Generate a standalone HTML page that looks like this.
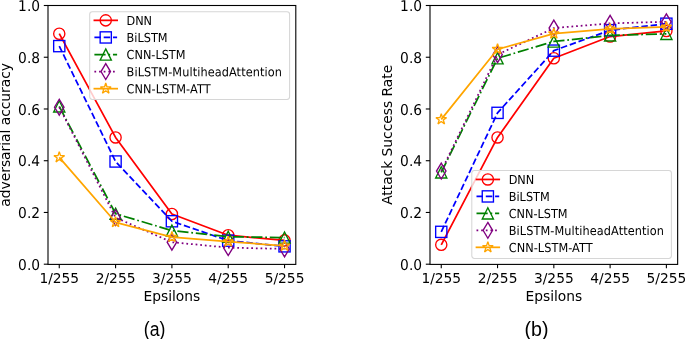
<!DOCTYPE html>
<html><head><meta charset="utf-8"><title>Figure</title>
<style>html,body{margin:0;padding:0;background:#fff}svg{display:block}</style>
</head><body>
<svg width="685" height="339" viewBox="0 0 685 339" font-family='"DejaVu Sans", "Liberation Sans", sans-serif' fill="#000">
<rect width="685" height="339" fill="#fff"/>
<clipPath id="ca"><rect x="48.0" y="5.5" width="247.8" height="258.7"/></clipPath>
<g clip-path="url(#ca)">
<polyline points="59.26,33.70 115.58,137.44 171.90,214.01 228.22,235.23 284.54,240.40" fill="none" stroke="#ff0000" stroke-width="1.75" stroke-linejoin="round"/>
<circle cx="59.26" cy="33.70" r="5.60" fill="none" stroke="#ff0000" stroke-width="1.35"/>
<circle cx="115.58" cy="137.44" r="5.60" fill="none" stroke="#ff0000" stroke-width="1.35"/>
<circle cx="171.90" cy="214.01" r="5.60" fill="none" stroke="#ff0000" stroke-width="1.35"/>
<circle cx="228.22" cy="235.23" r="5.60" fill="none" stroke="#ff0000" stroke-width="1.35"/>
<circle cx="284.54" cy="240.40" r="5.60" fill="none" stroke="#ff0000" stroke-width="1.35"/>
<polyline points="59.26,46.12 115.58,161.50 171.90,221.26 228.22,240.66 284.54,246.35" fill="none" stroke="#0000ff" stroke-width="1.75" stroke-dasharray="6.5 2.8" stroke-linejoin="round"/>
<rect x="53.66" y="40.52" width="11.20" height="11.20" fill="none" stroke="#0000ff" stroke-width="1.35"/>
<rect x="109.98" y="155.90" width="11.20" height="11.20" fill="none" stroke="#0000ff" stroke-width="1.35"/>
<rect x="166.30" y="215.66" width="11.20" height="11.20" fill="none" stroke="#0000ff" stroke-width="1.35"/>
<rect x="222.62" y="235.06" width="11.20" height="11.20" fill="none" stroke="#0000ff" stroke-width="1.35"/>
<rect x="278.94" y="240.75" width="11.20" height="11.20" fill="none" stroke="#0000ff" stroke-width="1.35"/>
<polyline points="59.26,106.39 115.58,213.75 171.90,230.57 228.22,236.78 284.54,237.55" fill="none" stroke="#008000" stroke-width="1.75" stroke-dasharray="11.2 2.8 1.75 2.8" stroke-linejoin="round"/>
<path d="M59.26 100.79 L64.86 111.99 L53.66 111.99 Z" fill="none" stroke="#008000" stroke-width="1.35" stroke-linejoin="miter"/>
<path d="M115.58 208.15 L121.18 219.35 L109.98 219.35 Z" fill="none" stroke="#008000" stroke-width="1.35" stroke-linejoin="miter"/>
<path d="M171.90 224.97 L177.50 236.17 L166.30 236.17 Z" fill="none" stroke="#008000" stroke-width="1.35" stroke-linejoin="miter"/>
<path d="M228.22 231.18 L233.82 242.38 L222.62 242.38 Z" fill="none" stroke="#008000" stroke-width="1.35" stroke-linejoin="miter"/>
<path d="M284.54 231.95 L290.14 243.15 L278.94 243.15 Z" fill="none" stroke="#008000" stroke-width="1.35" stroke-linejoin="miter"/>
<polyline points="59.26,107.17 115.58,217.63 171.90,242.21 228.22,247.64 284.54,248.94" fill="none" stroke="#800080" stroke-width="1.75" stroke-dasharray="1.75 2.9" stroke-linejoin="round"/>
<path d="M59.26 99.25 L64.02 107.17 L59.26 115.09 L54.51 107.17 Z" fill="none" stroke="#800080" stroke-width="1.35" stroke-linejoin="miter"/>
<path d="M115.58 209.71 L120.33 217.63 L115.58 225.55 L110.83 217.63 Z" fill="none" stroke="#800080" stroke-width="1.35" stroke-linejoin="miter"/>
<path d="M171.90 234.29 L176.65 242.21 L171.90 250.13 L167.15 242.21 Z" fill="none" stroke="#800080" stroke-width="1.35" stroke-linejoin="miter"/>
<path d="M228.22 239.72 L232.97 247.64 L228.22 255.56 L223.47 247.64 Z" fill="none" stroke="#800080" stroke-width="1.35" stroke-linejoin="miter"/>
<path d="M284.54 241.02 L289.29 248.94 L284.54 256.86 L279.78 248.94 Z" fill="none" stroke="#800080" stroke-width="1.35" stroke-linejoin="miter"/>
<polyline points="59.26,157.36 115.58,222.29 171.90,237.04 228.22,241.69 284.54,245.83" fill="none" stroke="#ffa500" stroke-width="1.75" stroke-linejoin="round"/>
<path d="M59.26 151.76 L60.52 155.63 L64.59 155.63 L61.30 158.02 L62.56 161.89 L59.26 159.50 L55.97 161.89 L57.23 158.02 L53.94 155.63 L58.01 155.63 Z" fill="none" stroke="#ffa500" stroke-width="1.35" stroke-linejoin="bevel"/>
<path d="M115.58 216.69 L116.84 220.56 L120.91 220.56 L117.62 222.95 L118.87 226.82 L115.58 224.43 L112.29 226.82 L113.55 222.95 L110.26 220.56 L114.32 220.56 Z" fill="none" stroke="#ffa500" stroke-width="1.35" stroke-linejoin="bevel"/>
<path d="M171.90 231.44 L173.16 235.31 L177.23 235.31 L173.93 237.70 L175.19 241.57 L171.90 239.18 L168.61 241.57 L169.87 237.70 L166.57 235.31 L170.64 235.31 Z" fill="none" stroke="#ffa500" stroke-width="1.35" stroke-linejoin="bevel"/>
<path d="M228.22 236.09 L229.48 239.96 L233.54 239.96 L230.25 242.35 L231.51 246.22 L228.22 243.83 L224.93 246.22 L226.18 242.35 L222.89 239.96 L226.96 239.96 Z" fill="none" stroke="#ffa500" stroke-width="1.35" stroke-linejoin="bevel"/>
<path d="M284.54 240.23 L285.79 244.10 L289.86 244.10 L286.57 246.49 L287.83 250.36 L284.54 247.97 L281.24 250.36 L282.50 246.49 L279.21 244.10 L283.28 244.10 Z" fill="none" stroke="#ffa500" stroke-width="1.35" stroke-linejoin="bevel"/>
</g>
<rect x="48.0" y="5.5" width="247.8" height="258.9" fill="none" stroke="#000" stroke-width="1.1"/>
<line x1="59.26" y1="264.2" x2="59.26" y2="268.20" stroke="#000" stroke-width="1.1"/>
<text x="59.26" y="283.10" font-size="13.8" text-anchor="middle">1/255</text>
<line x1="115.58" y1="264.2" x2="115.58" y2="268.20" stroke="#000" stroke-width="1.1"/>
<text x="115.58" y="283.10" font-size="13.8" text-anchor="middle">2/255</text>
<line x1="171.90" y1="264.2" x2="171.90" y2="268.20" stroke="#000" stroke-width="1.1"/>
<text x="171.90" y="283.10" font-size="13.8" text-anchor="middle">3/255</text>
<line x1="228.22" y1="264.2" x2="228.22" y2="268.20" stroke="#000" stroke-width="1.1"/>
<text x="228.22" y="283.10" font-size="13.8" text-anchor="middle">4/255</text>
<line x1="284.54" y1="264.2" x2="284.54" y2="268.20" stroke="#000" stroke-width="1.1"/>
<text x="284.54" y="283.10" font-size="13.8" text-anchor="middle">5/255</text>
<line x1="43.8" y1="264.20" x2="48.0" y2="264.20" stroke="#000" stroke-width="1.1"/>
<text transform="translate(40.05,270) rotate(0.03) scale(0.9262,1)" font-size="14.9" text-anchor="end">0.0</text>
<line x1="43.8" y1="212.46" x2="48.0" y2="212.46" stroke="#000" stroke-width="1.1"/>
<text transform="translate(40.05,218) rotate(0.03) scale(0.9262,1)" font-size="14.9" text-anchor="end">0.2</text>
<line x1="43.8" y1="160.72" x2="48.0" y2="160.72" stroke="#000" stroke-width="1.1"/>
<text transform="translate(40.05,166) rotate(0.03) scale(0.9262,1)" font-size="14.9" text-anchor="end">0.4</text>
<line x1="43.8" y1="108.98" x2="48.0" y2="108.98" stroke="#000" stroke-width="1.1"/>
<text transform="translate(40.05,115) rotate(0.03) scale(0.9262,1)" font-size="14.9" text-anchor="end">0.6</text>
<line x1="43.8" y1="57.24" x2="48.0" y2="57.24" stroke="#000" stroke-width="1.1"/>
<text transform="translate(40.05,63) rotate(0.03) scale(0.9262,1)" font-size="14.9" text-anchor="end">0.8</text>
<line x1="43.8" y1="5.50" x2="48.0" y2="5.50" stroke="#000" stroke-width="1.1"/>
<text transform="translate(40.05,11) rotate(0.03) scale(0.9262,1)" font-size="14.9" text-anchor="end">1.0</text>
<text x="171.90" y="300.90" font-size="13.8" text-anchor="middle">Epsilons</text>
<text transform="translate(10.2,134.85) rotate(-90)" font-size="13.8" text-anchor="middle">adversarial accuracy</text>
<rect x="89.7" y="11.8" width="199.9" height="87.6" rx="2.6" fill="#fff" fill-opacity="0.8" stroke="#d6d6d6" stroke-width="1.05"/>
<line x1="94.40" y1="20.35" x2="117.10" y2="20.35" stroke="#ff0000" stroke-width="1.75" stroke-linecap="square"/>
<circle cx="105.75" cy="20.35" r="5.60" fill="none" stroke="#ff0000" stroke-width="1.35"/>
<text transform="translate(126.60,24.90) rotate(0.03) scale(0.9174,1)" font-size="12.32" textLength="27.69" lengthAdjust="spacing">DNN</text>
<line x1="94.40" y1="37.43" x2="117.10" y2="37.43" stroke="#0000ff" stroke-width="1.75" stroke-dasharray="6.5 2.8"/>
<rect x="100.15" y="31.83" width="11.20" height="11.20" fill="none" stroke="#0000ff" stroke-width="1.35"/>
<text transform="translate(126.60,41.98) rotate(0.03) scale(0.9174,1)" font-size="12.32" textLength="44.69" lengthAdjust="spacing">BiLSTM</text>
<line x1="94.40" y1="54.51" x2="117.10" y2="54.51" stroke="#008000" stroke-width="1.75" stroke-dasharray="11.2 2.8 1.75 2.8"/>
<path d="M105.75 48.91 L111.35 60.11 L100.15 60.11 Z" fill="none" stroke="#008000" stroke-width="1.35" stroke-linejoin="miter"/>
<text transform="translate(126.60,59.06) rotate(0.03) scale(0.9174,1)" font-size="12.32" textLength="64.20" lengthAdjust="spacing">CNN-LSTM</text>
<line x1="94.40" y1="71.59" x2="117.10" y2="71.59" stroke="#800080" stroke-width="1.75" stroke-dasharray="1.75 2.9"/>
<path d="M105.75 63.67 L110.50 71.59 L105.75 79.51 L101.00 71.59 Z" fill="none" stroke="#800080" stroke-width="1.35" stroke-linejoin="miter"/>
<text transform="translate(126.60,76.14) rotate(0.03) scale(0.9174,1)" font-size="12.32" textLength="169.28" lengthAdjust="spacing">BiLSTM-MultiheadAttention</text>
<line x1="94.40" y1="88.67" x2="117.10" y2="88.67" stroke="#ffa500" stroke-width="1.75" stroke-linecap="square"/>
<path d="M105.75 83.07 L107.01 86.94 L111.08 86.94 L107.78 89.33 L109.04 93.20 L105.75 90.81 L102.46 93.20 L103.72 89.33 L100.42 86.94 L104.49 86.94 Z" fill="none" stroke="#ffa500" stroke-width="1.35" stroke-linejoin="bevel"/>
<text transform="translate(126.60,93.22) rotate(0.03) scale(0.9174,1)" font-size="12.32" textLength="91.56" lengthAdjust="spacing">CNN-LSTM-ATT</text>
<text x="154.60" y="336.4" font-size="19.6" text-anchor="middle" font-family="'Liberation Sans', sans-serif" textLength="21.6" lengthAdjust="spacingAndGlyphs">(a)</text>
<clipPath id="cb"><rect x="430.0" y="5.5" width="247.64999999999998" height="258.7"/></clipPath>
<g clip-path="url(#cb)">
<polyline points="441.26,244.80 497.54,137.44 553.83,58.27 610.11,36.54 666.39,30.98" fill="none" stroke="#ff0000" stroke-width="1.75" stroke-linejoin="round"/>
<circle cx="441.26" cy="244.80" r="5.60" fill="none" stroke="#ff0000" stroke-width="1.35"/>
<circle cx="497.54" cy="137.44" r="5.60" fill="none" stroke="#ff0000" stroke-width="1.35"/>
<circle cx="553.83" cy="58.27" r="5.60" fill="none" stroke="#ff0000" stroke-width="1.35"/>
<circle cx="610.11" cy="36.54" r="5.60" fill="none" stroke="#ff0000" stroke-width="1.35"/>
<circle cx="666.39" cy="30.98" r="5.60" fill="none" stroke="#ff0000" stroke-width="1.35"/>
<polyline points="441.26,231.86 497.54,112.86 553.83,50.64 610.11,30.18 666.39,23.71" fill="none" stroke="#0000ff" stroke-width="1.75" stroke-dasharray="6.5 2.8" stroke-linejoin="round"/>
<rect x="435.66" y="226.26" width="11.20" height="11.20" fill="none" stroke="#0000ff" stroke-width="1.35"/>
<rect x="491.94" y="107.26" width="11.20" height="11.20" fill="none" stroke="#0000ff" stroke-width="1.35"/>
<rect x="548.23" y="45.04" width="11.20" height="11.20" fill="none" stroke="#0000ff" stroke-width="1.35"/>
<rect x="604.51" y="24.58" width="11.20" height="11.20" fill="none" stroke="#0000ff" stroke-width="1.35"/>
<rect x="660.79" y="18.11" width="11.20" height="11.20" fill="none" stroke="#0000ff" stroke-width="1.35"/>
<polyline points="441.26,172.36 497.54,58.27 553.83,41.46 610.11,35.38 666.39,33.85" fill="none" stroke="#008000" stroke-width="1.75" stroke-dasharray="11.2 2.8 1.75 2.8" stroke-linejoin="round"/>
<path d="M441.26 166.76 L446.86 177.96 L435.66 177.96 Z" fill="none" stroke="#008000" stroke-width="1.35" stroke-linejoin="miter"/>
<path d="M497.54 52.67 L503.14 63.87 L491.94 63.87 Z" fill="none" stroke="#008000" stroke-width="1.35" stroke-linejoin="miter"/>
<path d="M553.83 35.86 L559.43 47.06 L548.23 47.06 Z" fill="none" stroke="#008000" stroke-width="1.35" stroke-linejoin="miter"/>
<path d="M610.11 29.78 L615.71 40.98 L604.51 40.98 Z" fill="none" stroke="#008000" stroke-width="1.35" stroke-linejoin="miter"/>
<path d="M666.39 28.25 L671.99 39.45 L660.79 39.45 Z" fill="none" stroke="#008000" stroke-width="1.35" stroke-linejoin="miter"/>
<polyline points="441.26,171.07 497.54,54.65 553.83,28.08 610.11,23.35 666.39,21.80" fill="none" stroke="#800080" stroke-width="1.75" stroke-dasharray="1.75 2.9" stroke-linejoin="round"/>
<path d="M441.26 163.15 L446.01 171.07 L441.26 178.99 L436.51 171.07 Z" fill="none" stroke="#800080" stroke-width="1.35" stroke-linejoin="miter"/>
<path d="M497.54 46.73 L502.29 54.65 L497.54 62.57 L492.79 54.65 Z" fill="none" stroke="#800080" stroke-width="1.35" stroke-linejoin="miter"/>
<path d="M553.83 20.16 L558.58 28.08 L553.83 36.00 L549.07 28.08 Z" fill="none" stroke="#800080" stroke-width="1.35" stroke-linejoin="miter"/>
<path d="M610.11 15.43 L614.86 23.35 L610.11 31.27 L605.36 23.35 Z" fill="none" stroke="#800080" stroke-width="1.35" stroke-linejoin="miter"/>
<path d="M666.39 13.88 L671.14 21.80 L666.39 29.72 L661.64 21.80 Z" fill="none" stroke="#800080" stroke-width="1.35" stroke-linejoin="miter"/>
<polyline points="441.26,119.33 497.54,49.22 553.83,33.70 610.11,28.99 666.39,26.97" fill="none" stroke="#ffa500" stroke-width="1.75" stroke-linejoin="round"/>
<path d="M441.26 113.73 L442.51 117.60 L446.58 117.60 L443.29 119.99 L444.55 123.86 L441.26 121.47 L437.97 123.86 L439.22 119.99 L435.93 117.60 L440.00 117.60 Z" fill="none" stroke="#ffa500" stroke-width="1.35" stroke-linejoin="bevel"/>
<path d="M497.54 43.62 L498.80 47.49 L502.87 47.49 L499.58 49.88 L500.83 53.75 L497.54 51.36 L494.25 53.75 L495.51 49.88 L492.21 47.49 L496.28 47.49 Z" fill="none" stroke="#ffa500" stroke-width="1.35" stroke-linejoin="bevel"/>
<path d="M553.83 28.10 L555.08 31.97 L559.15 31.97 L555.86 34.36 L557.12 38.23 L553.83 35.84 L550.53 38.23 L551.79 34.36 L548.50 31.97 L552.57 31.97 Z" fill="none" stroke="#ffa500" stroke-width="1.35" stroke-linejoin="bevel"/>
<path d="M610.11 23.39 L611.37 27.26 L615.44 27.26 L612.14 29.65 L613.40 33.52 L610.11 31.13 L606.82 33.52 L608.07 29.65 L604.78 27.26 L608.85 27.26 Z" fill="none" stroke="#ffa500" stroke-width="1.35" stroke-linejoin="bevel"/>
<path d="M666.39 21.37 L667.65 25.24 L671.72 25.24 L668.43 27.63 L669.68 31.50 L666.39 29.11 L663.10 31.50 L664.36 27.63 L661.07 25.24 L665.14 25.24 Z" fill="none" stroke="#ffa500" stroke-width="1.35" stroke-linejoin="bevel"/>
</g>
<rect x="430.0" y="5.5" width="247.64999999999998" height="258.9" fill="none" stroke="#000" stroke-width="1.1"/>
<line x1="441.26" y1="264.2" x2="441.26" y2="268.20" stroke="#000" stroke-width="1.1"/>
<text x="441.26" y="283.10" font-size="13.8" text-anchor="middle">1/255</text>
<line x1="497.54" y1="264.2" x2="497.54" y2="268.20" stroke="#000" stroke-width="1.1"/>
<text x="497.54" y="283.10" font-size="13.8" text-anchor="middle">2/255</text>
<line x1="553.83" y1="264.2" x2="553.83" y2="268.20" stroke="#000" stroke-width="1.1"/>
<text x="553.83" y="283.10" font-size="13.8" text-anchor="middle">3/255</text>
<line x1="610.11" y1="264.2" x2="610.11" y2="268.20" stroke="#000" stroke-width="1.1"/>
<text x="610.11" y="283.10" font-size="13.8" text-anchor="middle">4/255</text>
<line x1="666.39" y1="264.2" x2="666.39" y2="268.20" stroke="#000" stroke-width="1.1"/>
<text x="666.39" y="283.10" font-size="13.8" text-anchor="middle">5/255</text>
<line x1="425.8" y1="264.20" x2="430.0" y2="264.20" stroke="#000" stroke-width="1.1"/>
<text transform="translate(422.05,270) rotate(0.03) scale(0.9262,1)" font-size="14.9" text-anchor="end">0.0</text>
<line x1="425.8" y1="212.46" x2="430.0" y2="212.46" stroke="#000" stroke-width="1.1"/>
<text transform="translate(422.05,218) rotate(0.03) scale(0.9262,1)" font-size="14.9" text-anchor="end">0.2</text>
<line x1="425.8" y1="160.72" x2="430.0" y2="160.72" stroke="#000" stroke-width="1.1"/>
<text transform="translate(422.05,166) rotate(0.03) scale(0.9262,1)" font-size="14.9" text-anchor="end">0.4</text>
<line x1="425.8" y1="108.98" x2="430.0" y2="108.98" stroke="#000" stroke-width="1.1"/>
<text transform="translate(422.05,115) rotate(0.03) scale(0.9262,1)" font-size="14.9" text-anchor="end">0.6</text>
<line x1="425.8" y1="57.24" x2="430.0" y2="57.24" stroke="#000" stroke-width="1.1"/>
<text transform="translate(422.05,63) rotate(0.03) scale(0.9262,1)" font-size="14.9" text-anchor="end">0.8</text>
<line x1="425.8" y1="5.50" x2="430.0" y2="5.50" stroke="#000" stroke-width="1.1"/>
<text transform="translate(422.05,11) rotate(0.03) scale(0.9262,1)" font-size="14.9" text-anchor="end">1.0</text>
<text x="553.83" y="300.90" font-size="13.8" text-anchor="middle">Epsilons</text>
<text transform="translate(392.1,134.85) rotate(-90)" font-size="13.8" text-anchor="middle">Attack Success Rate</text>
<rect x="471.8" y="170.4" width="199.6" height="88.0" rx="2.6" fill="#fff" fill-opacity="0.8" stroke="#d6d6d6" stroke-width="1.05"/>
<line x1="476.50" y1="179.45" x2="499.20" y2="179.45" stroke="#ff0000" stroke-width="1.75" stroke-linecap="square"/>
<circle cx="487.85" cy="179.45" r="5.60" fill="none" stroke="#ff0000" stroke-width="1.35"/>
<text transform="translate(508.70,184.00) rotate(0.03) scale(0.9174,1)" font-size="12.32" textLength="27.69" lengthAdjust="spacing">DNN</text>
<line x1="476.50" y1="196.42" x2="499.20" y2="196.42" stroke="#0000ff" stroke-width="1.75" stroke-dasharray="6.5 2.8"/>
<rect x="482.25" y="190.82" width="11.20" height="11.20" fill="none" stroke="#0000ff" stroke-width="1.35"/>
<text transform="translate(508.70,200.97) rotate(0.03) scale(0.9174,1)" font-size="12.32" textLength="44.69" lengthAdjust="spacing">BiLSTM</text>
<line x1="476.50" y1="213.39" x2="499.20" y2="213.39" stroke="#008000" stroke-width="1.75" stroke-dasharray="11.2 2.8 1.75 2.8"/>
<path d="M487.85 207.79 L493.45 218.99 L482.25 218.99 Z" fill="none" stroke="#008000" stroke-width="1.35" stroke-linejoin="miter"/>
<text transform="translate(508.70,217.94) rotate(0.03) scale(0.9174,1)" font-size="12.32" textLength="64.20" lengthAdjust="spacing">CNN-LSTM</text>
<line x1="476.50" y1="230.36" x2="499.20" y2="230.36" stroke="#800080" stroke-width="1.75" stroke-dasharray="1.75 2.9"/>
<path d="M487.85 222.44 L492.60 230.36 L487.85 238.28 L483.10 230.36 Z" fill="none" stroke="#800080" stroke-width="1.35" stroke-linejoin="miter"/>
<text transform="translate(508.70,234.91) rotate(0.03) scale(0.9174,1)" font-size="12.32" textLength="169.28" lengthAdjust="spacing">BiLSTM-MultiheadAttention</text>
<line x1="476.50" y1="247.33" x2="499.20" y2="247.33" stroke="#ffa500" stroke-width="1.75" stroke-linecap="square"/>
<path d="M487.85 241.73 L489.11 245.60 L493.18 245.60 L489.88 247.99 L491.14 251.86 L487.85 249.47 L484.56 251.86 L485.82 247.99 L482.52 245.60 L486.59 245.60 Z" fill="none" stroke="#ffa500" stroke-width="1.35" stroke-linejoin="bevel"/>
<text transform="translate(508.70,251.88) rotate(0.03) scale(0.9174,1)" font-size="12.32" textLength="91.56" lengthAdjust="spacing">CNN-LSTM-ATT</text>
<text x="536.53" y="336.4" font-size="19.6" text-anchor="middle" font-family="'Liberation Sans', sans-serif">(b)</text>
</svg>
</body></html>
